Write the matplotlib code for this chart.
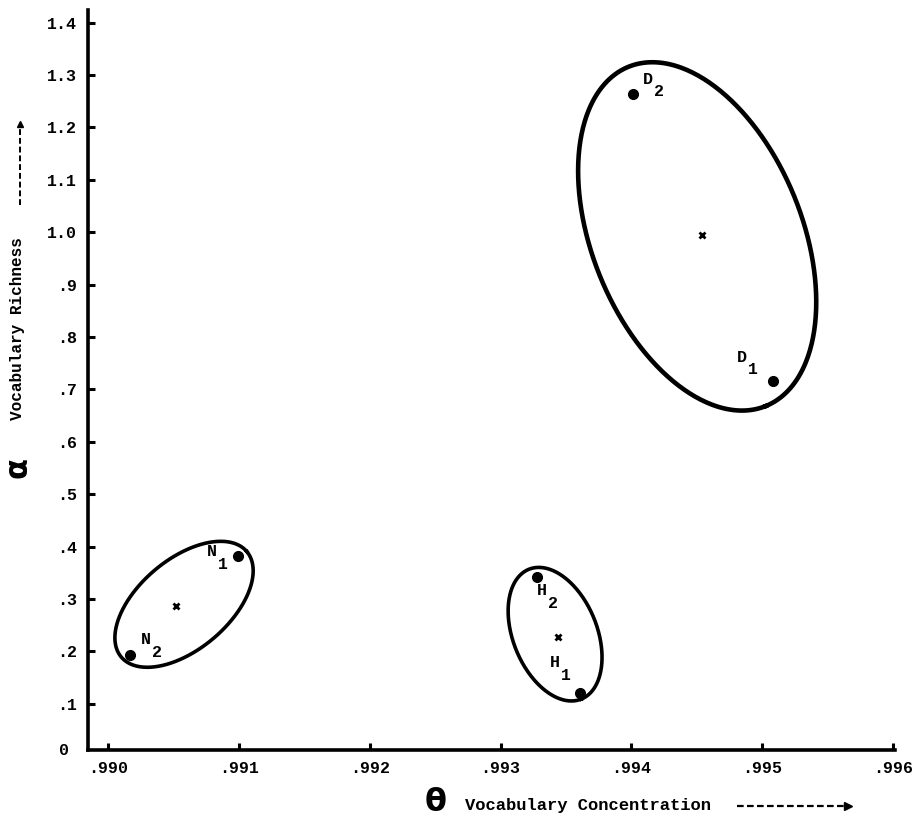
import numpy as np
import matplotlib
matplotlib.use("Agg")
import matplotlib.pyplot as plt
from matplotlib.lines import Line2D

# ---- data ----
point_names = ["N1", "N2", "H1", "H2", "D1", "D2"]
point_letters = ["N", "N", "H", "H", "D", "D"]
point_subs = ["1", "2", "1", "2", "1", "2"]
theta_vals = [0.99099, 0.99017, 0.99361, 0.99328, 0.99508, 0.99401]
alpha_vals = [0.382, 0.193, 0.120, 0.342, 0.716, 1.263]

center_theta = [0.99052, 0.99344, 0.99454]
center_alpha = [0.286, 0.227, 0.995]

# enclosing ellipses: centre (data), semi-axes (pixels), tilt (deg)
ell_theta = [0.990581, 0.993417, 0.994503]
ell_alpha = [0.290, 0.233, 0.992]
ell_a = [82, 70, 183]
ell_b = [45, 42, 105]
ell_ang = [40, -68, -68]
ell_lw = [2.6, 2.6, 3.3]

x_ticks = [0.990, 0.991, 0.992, 0.993, 0.994, 0.995, 0.996]
x_ticklabels = [".990", ".991", ".992", ".993", ".994", ".995", ".996"]
y_ticks = [0.1, 0.2, 0.3, 0.4, 0.5, 0.6, 0.7, 0.8, 0.9, 1.0, 1.1, 1.2, 1.3, 1.4]
y_ticklabels = [".1", ".2", ".3", ".4", ".5", ".6", ".7", ".8", ".9",
                "1.0", "1.1", "1.2", "1.3", "1.4"]

FONT = "Liberation Mono"

fig = plt.figure(figsize=(9.19, 8.22), dpi=100)
ax = fig.add_axes([88 / 919, 1 - 750 / 822, 807 / 919, 740 / 822])
ax.set_xlim(0.989847, 0.996015)
ax.set_ylim(0.012, 1.424)

for s in ["top", "right"]:
    ax.spines[s].set_visible(False)
for s in ["left", "bottom"]:
    ax.spines[s].set_linewidth(2.6)
    ax.spines[s].set_color("black")

ax.set_xticks(x_ticks)
ax.set_xticklabels(x_ticklabels, fontfamily=FONT, fontweight="bold", fontsize=12)
ax.set_yticks(y_ticks)
ax.set_yticklabels(y_ticklabels, fontfamily=FONT, fontweight="bold", fontsize=12)
ax.tick_params(axis="both", direction="in", length=5, width=2.2, colors="black")
ax.tick_params(axis="x", pad=8)
ax.tick_params(axis="y", pad=8)
# zero label at the corner
ax.text(-0.03, 0.0, "0", transform=ax.transAxes, ha="center", va="center",
        fontfamily=FONT, fontweight="bold", fontsize=12)

# points
ax.plot(theta_vals, alpha_vals, "o", color="black", markersize=7, linestyle="none")
ax.plot(center_theta, center_alpha, "x", color="black", markersize=4, mew=2,
        linestyle="none")

# ellipses built in display space then mapped back into data space
fig.canvas.draw()
t = np.linspace(0, 2 * np.pi, 400)
inv = ax.transData.inverted()
for cx, cy, a, b, ang, lw in zip(ell_theta, ell_alpha, ell_a, ell_b, ell_ang, ell_lw):
    px, py = ax.transData.transform((cx, cy))
    th = np.deg2rad(ang)
    dx = a * np.cos(t) * np.cos(th) - b * np.sin(t) * np.sin(th)
    dy = a * np.cos(t) * np.sin(th) + b * np.sin(t) * np.cos(th)
    pts = inv.transform(np.column_stack([px + dx, py + dy]))
    ax.plot(pts[:, 0], pts[:, 1], color="black", lw=lw)

# labels (letter + lowered subscript digit), offsets in points
label_offsets = {"N1": (-22, 3), "N2": (8, 11), "H1": (-22, 22),
                 "H2": (0, -10), "D1": (-26, 17), "D2": (7, 11)}
for name, x, y, let, sub in zip(point_names, theta_vals, alpha_vals,
                                point_letters, point_subs):
    ox, oy = label_offsets[name]
    ax.annotate(let, (x, y), xytext=(ox, oy), textcoords="offset points",
                fontfamily=FONT, fontweight="bold", fontsize=12,
                ha="left", va="center")
    ax.annotate(sub, (x, y), xytext=(ox + 8, oy - 9), textcoords="offset points",
                fontfamily=FONT, fontweight="bold", fontsize=12,
                ha="left", va="center")

# axis titles
fig.text(436 / 919, 1 - 802 / 822, "\u03b8", fontsize=23, fontweight="bold",
         ha="center", va="center", family="DejaVu Sans")
fig.text(465 / 919, 1 - 805 / 822, "Vocabulary Concentration", fontsize=12.3,
         fontweight="bold", family=FONT, ha="left", va="center")
# dashed arrow for x
fig.add_artist(Line2D([737 / 919, 845 / 919], [1 - 806 / 822] * 2,
                      transform=fig.transFigure, color="black", lw=1.6,
                      linestyle=(0, (3, 1.5))))
fig.add_artist(Line2D([848 / 919], [1 - 806 / 822], transform=fig.transFigure,
                      marker=">", color="black", markersize=6))

fig.text(18 / 919, 1 - 467 / 822, "\u03b1", fontsize=22, fontweight="bold",
         rotation=90, ha="center", va="center", family="DejaVu Sans")
fig.text(18 / 919, 1 - 420 / 822, "Vocabulary Richness", fontsize=11.5,
         fontweight="bold", family=FONT, rotation=90, ha="center", va="bottom")
fig.add_artist(Line2D([20 / 919, 20 / 919], [1 - 205 / 822, 1 - 128 / 822],
                      transform=fig.transFigure, color="black", lw=1.4,
                      linestyle=(0, (3, 1.5))))
fig.add_artist(Line2D([20 / 919], [1 - 124 / 822], transform=fig.transFigure,
                      marker="^", color="black", markersize=5))

fig.savefig("out.png", dpi=100, facecolor="white")
